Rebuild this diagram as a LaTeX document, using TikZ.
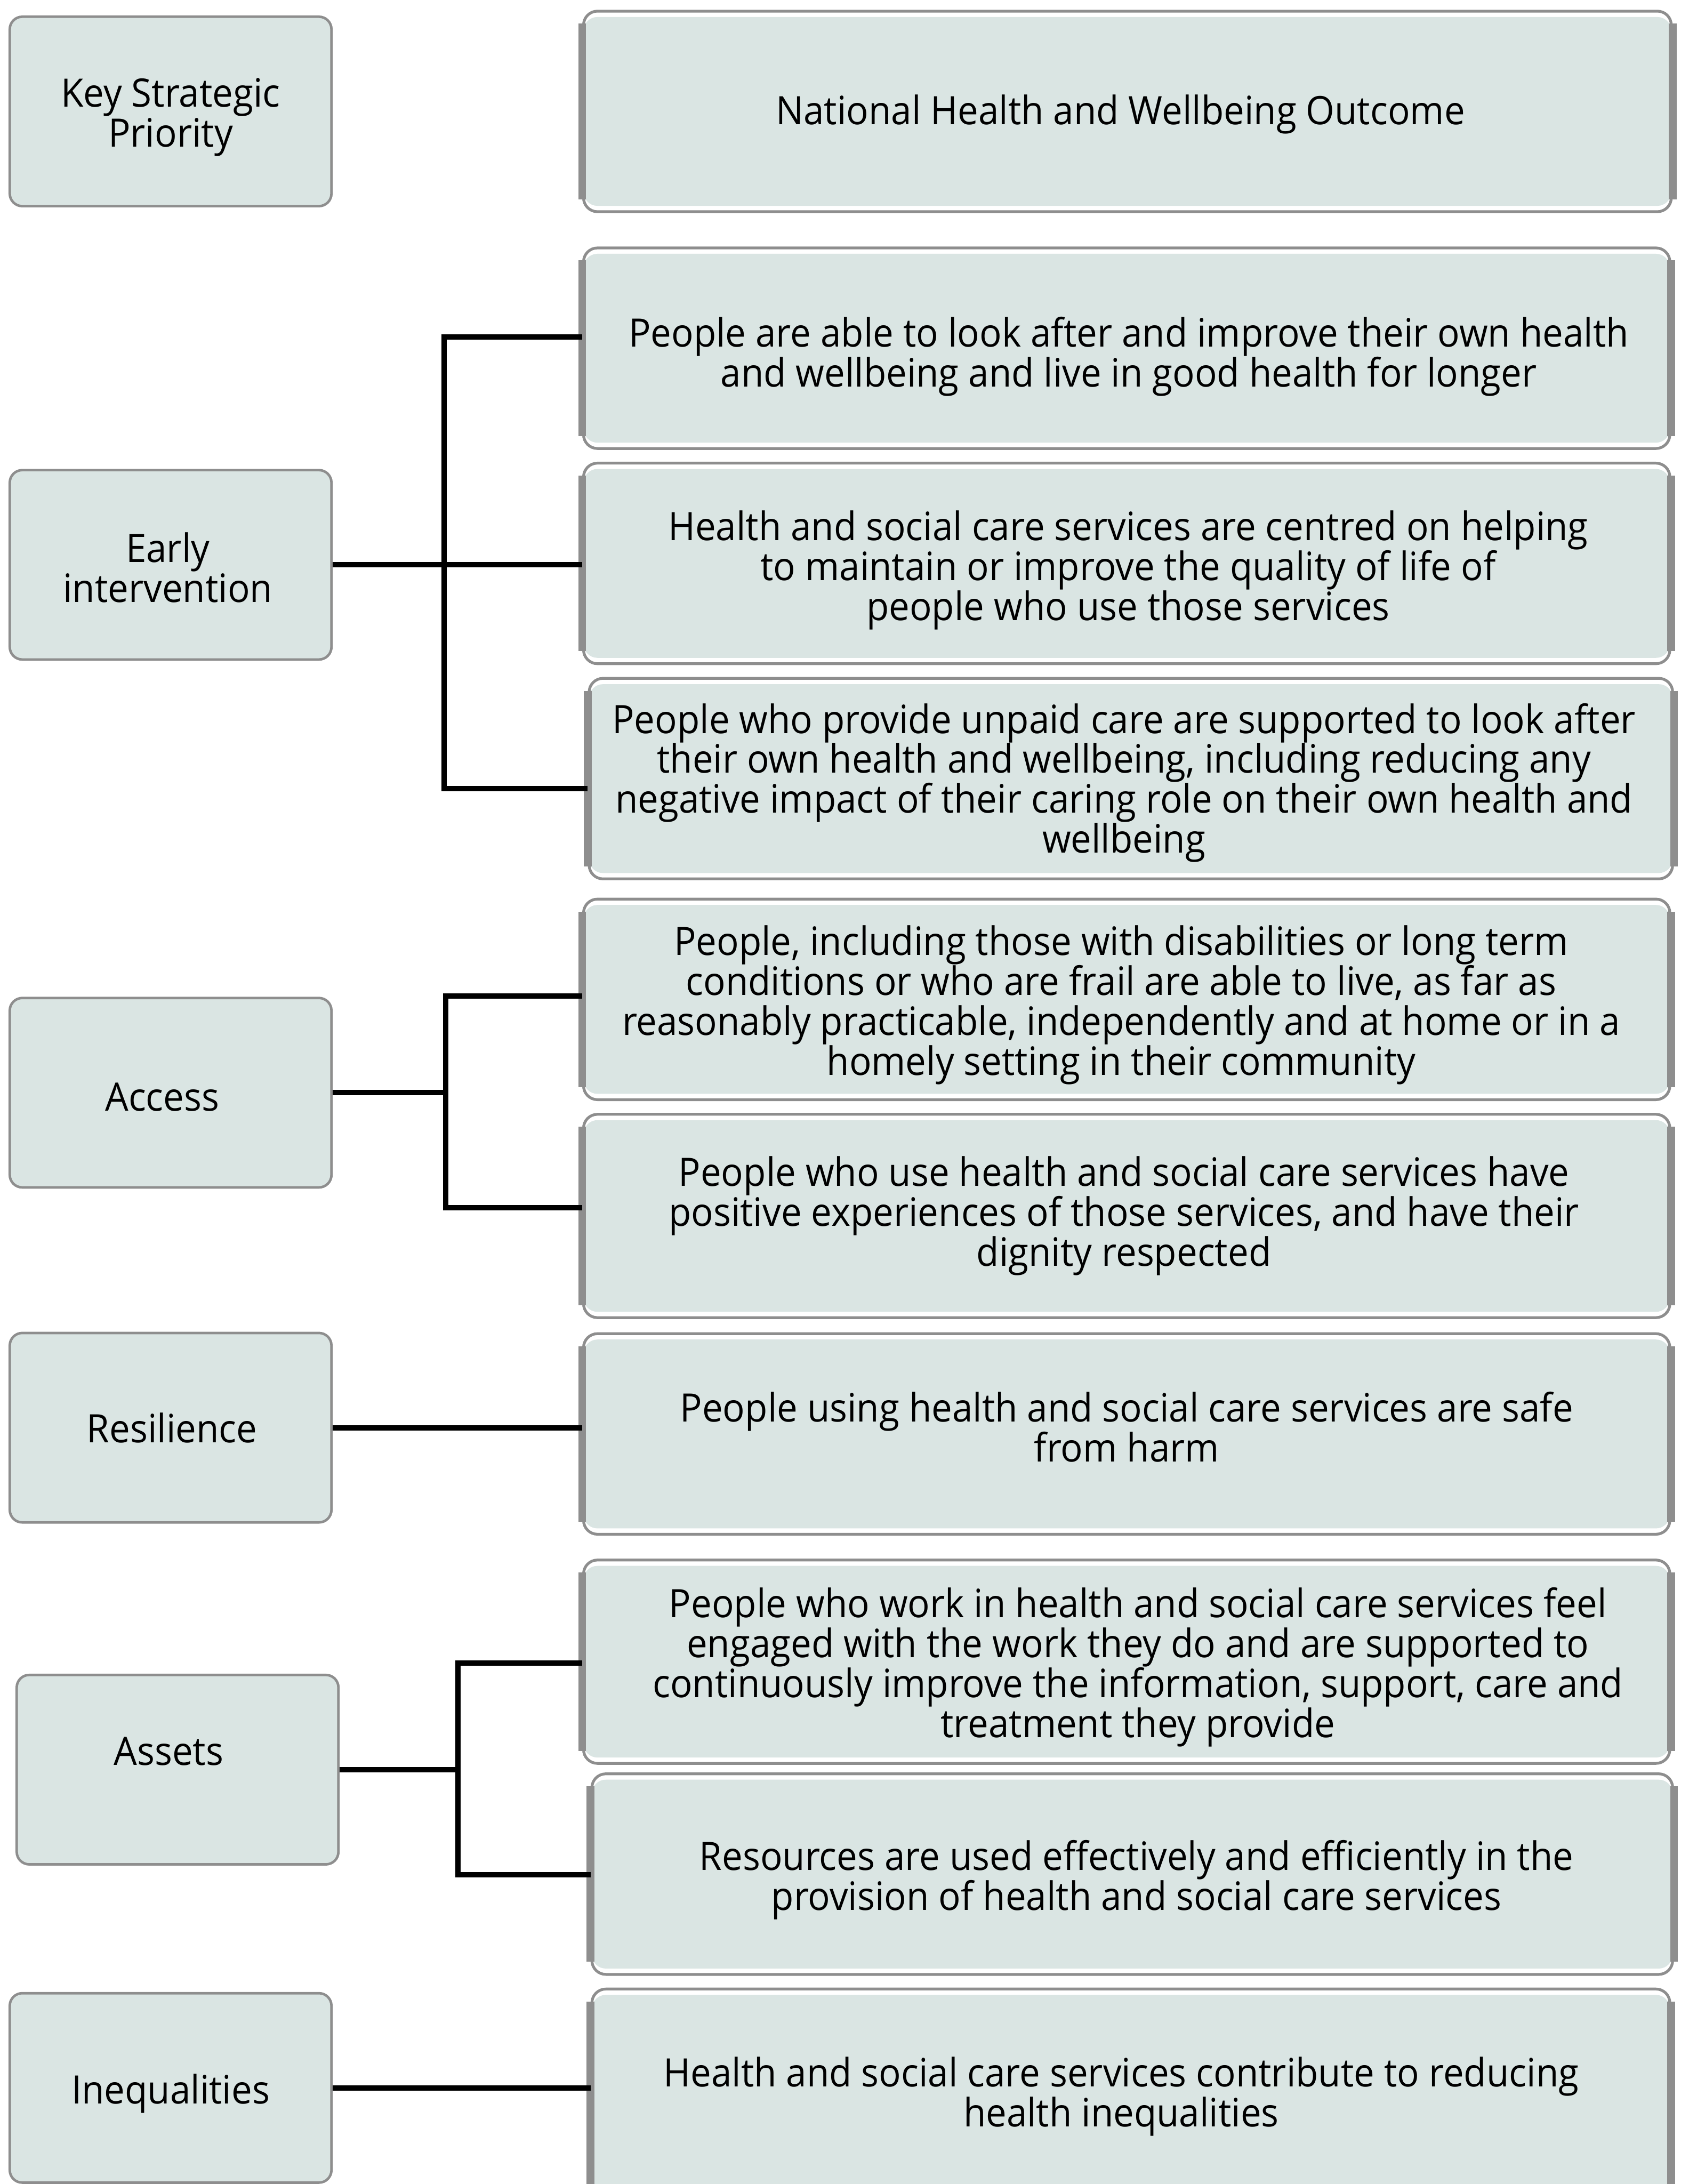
\documentclass[tikz,border=0pt]{standalone}
\usepackage{fontspec}
\setmainfont[FakeStretch=0.94]{Open Sans}
\usetikzlibrary{calc}
\definecolor{boxfill}{HTML}{DAE5E3}
\definecolor{boxline}{HTML}{8E8E8E}
\newsavebox\tboxsave
% \boxtext{dx}{dy}{lines}: centred lines, drawn shifted by dx (right) and dy (down)
\newcommand\boxtext[3]{\sbox\tboxsave{\vbox{\let\\\cr\halign{\hfil##\hfil\cr#3\crcr}}}%
  \rlap{\hspace*{#1}\raisebox{-#2}[0pt][0pt]{\usebox\tboxsave}}\phantom{\usebox\tboxsave}}
\begin{document}
\begin{tikzpicture}[x=0.5mm,y=-0.5mm,
  every node/.style={font=\fontsize{40}{40.8}\selectfont, inner sep=0pt},
  kbox/.style={draw=boxline, line width=0.9mm, fill=boxfill, rounded corners=4.5mm,
    minimum width=115.5mm, minimum height=68mm},
  obox/.style={draw=boxline, line width=1mm, fill=white, rounded corners=5mm,
    minimum width=390mm, minimum height=72mm,
    path picture={\fill[boxfill] ($(path picture bounding box.south west)+(0,2.1mm)$)
      rectangle ($(path picture bounding box.north east)+(0,-2.1mm)$);}},
  sidebar/.style={draw=boxline, line width=2.8mm},
  conn/.style={draw=black, line width=1.9mm, line join=miter}]
\useasboundingbox (0,0) rectangle (1207,1568);
\clip (0,0) rectangle (1207,1568);

% left column
\node[kbox] (k0) at (122.5,80) {\boxtext{0mm}{2mm}{Key Strategic\\Priority}};
\node[kbox] (k1) at (122.5,405.5) {\boxtext{-1mm}{1mm}{Early\\intervention}};
\node[kbox] (k2) at (122.5,784.5) {\boxtext{-3mm}{1.5mm}{Access}};
\node[kbox] (k3) at (122.5,1025) {\boxtext{0.5mm}{0mm}{Resilience}};
\node[kbox] (k4) at (127.5,1270.5) {\boxtext{-3.2mm}{-6.5mm}{Assets}};
\node[kbox] (k5) at (122.5,1499) {\boxtext{0mm}{2mm}{Inequalities}};

% right column
\node[obox, minimum width=390.5mm] (o1) at (809.5,80) {\boxtext{-2.5mm}{1mm}{National Health and Wellbeing Outcome}};
\node[obox] (o2) at (809,250) {\boxtext{0.7mm}{3mm}{People are able to look after and improve their own health\\and wellbeing and live in good health for longer}};
\node[obox] (o3) at (809,404.5) {\boxtext{0.5mm}{2.5mm}{Health and social care services are centred on helping\\to maintain or improve the quality of life of\\people who use those services}};
\node[obox, minimum width=389mm] (o4) at (812,559) {\boxtext{-2.5mm}{1.5mm}{People who provide unpaid care are supported to look after\\their own health and wellbeing, including reducing any\\negative impact of their caring role on their own health and\\wellbeing}};
\node[obox] (o5) at (809,717.5) {\boxtext{-2mm}{2mm}{People, including those with disabilities or long term\\conditions or who are frail are able to live, as far as\\reasonably practicable, independently and at home or in a\\homely setting in their community}};
\node[obox, minimum height=73mm] (o6) at (809,873) {\boxtext{-1mm}{0mm}{People who use health and social care services have\\positive experiences of those services, and have their\\dignity respected}};
\node[obox] (o7) at (809,1029.5) {\boxtext{0mm}{-2.5mm}{People using health and social care services are safe\\from harm}};
\node[obox, minimum height=73mm] (o8) at (809,1193) {\boxtext{4mm}{2mm}{People who work in health and social care services feel\\engaged with the work they do and are supported to\\continuously improve the information, support, care and\\treatment they provide}};
\node[obox, minimum width=388mm] (o9) at (813,1345.5) {\boxtext{1.5mm}{2mm}{Resources are used effectively and efficiently in the\\provision of health and social care services}};
\node[obox, minimum width=387mm, minimum height=75mm] (o10) at (812,1503) {\boxtext{-3.5mm}{1mm}{Health and social care services contribute to reducing\\health inequalities}};

\foreach \n in {o1,o2,o3,o4,o5,o6,o7,o8,o9,o10}{
  \draw[sidebar] ([yshift=-5mm]\n.north west) -- ([yshift=5mm]\n.south west);
  \draw[sidebar] ([yshift=-5mm]\n.north east) -- ([yshift=5mm]\n.south east);
}

% connectors
\coordinate (a1) at (319,242);
\coordinate (a2) at (319,566);
\draw[conn] (o2.west |- a1) -- (a1) -- (a2) -- (o4.west |- a2);
\draw[conn] (k1.east) -- (k1.east -| o3.west);

\coordinate (b1) at (320,715);
\coordinate (b2) at (320,867);
\draw[conn] (o5.west |- b1) -- (b1) -- (b2) -- (o6.west |- b2);
\draw[conn] (k2.east) -- (k2.east -| b1);

\draw[conn] (k3.east) -- (k3.east -| o7.west);

\coordinate (c1) at (329,1194);
\coordinate (c2) at (329,1346);
\draw[conn] (o8.west |- c1) -- (c1) -- (c2) -- (o9.west |- c2);
\draw[conn] (k4.east) -- (k4.east -| c1);

\draw[conn] (k5.east) -- (k5.east -| o10.west);
\end{tikzpicture}
\end{document}
